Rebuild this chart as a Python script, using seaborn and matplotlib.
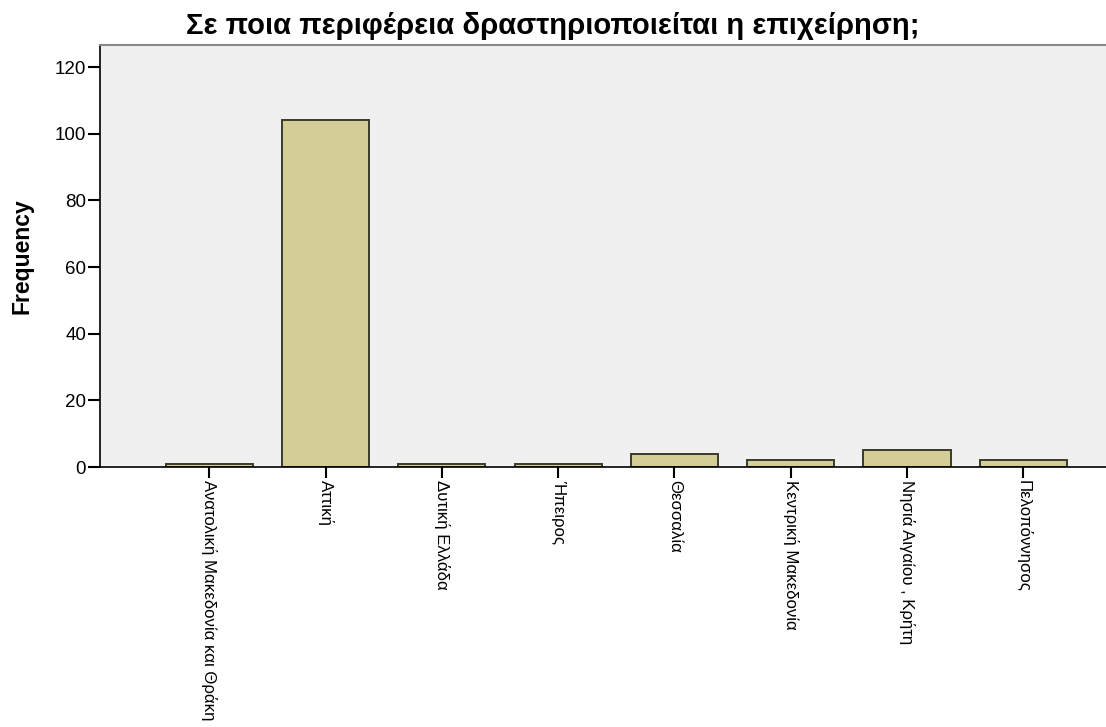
import matplotlib
matplotlib.use("Agg")
import matplotlib.pyplot as plt
import seaborn as sns
import pandas as pd

# Data
regions = [
    "Ανατολική Μακεδονία και Θράκη",
    "Αττική",
    "Δυτική Ελλάδα",
    "Ήπειρος",
    "Θεσσαλία",
    "Κεντρική Μακεδονία",
    "Νησιά Αιγαίου , Κρήτη",
    "Πελοπόννησος",
]
frequency = [1, 104, 1, 1, 4, 2, 5, 2]
y_ticks = [0, 20, 40, 60, 80, 100, 120]

title = "Σε ποια περιφέρεια δραστηριοποιείται η επιχείρηση;"

sns.set_style("white")
plt.rcParams["font.family"] = ["Liberation Sans", "DejaVu Sans"]
plt.rcParams["text.color"] = "black"
plt.rcParams["xtick.color"] = "black"
plt.rcParams["ytick.color"] = "black"
plt.rcParams["axes.labelcolor"] = "black"

df = pd.DataFrame({"region": regions, "frequency": frequency})

fig = plt.figure(figsize=(11.06, 7.27), dpi=100)
ax = fig.add_axes([0.0904, 0.3576, 0.92, 0.5805])
ax.set_facecolor("#f0f0f0")

sns.barplot(data=df, x="region", y="frequency", color="#d3ce97",
            saturation=1, width=0.75, edgecolor="#3c3a2c", linewidth=1.4, ax=ax)

ax.set_xlim(-0.94, 7.81)
ax.set_ylim(0, 126.6)
ax.set_yticks(y_ticks)
ax.set_yticklabels([str(t) for t in y_ticks], fontsize=13.5)
ax.set_xticks(range(len(regions)))
ax.set_xticklabels(regions, rotation=-90, ha="center", va="top", fontsize=12.1)

ax.tick_params(axis="y", direction="out", length=9, width=1.5, left=True, pad=1)
ax.tick_params(axis="x", direction="out", length=8, width=1.5, bottom=True, pad=1)

for side in ["left", "bottom"]:
    ax.spines[side].set_color("black")
    ax.spines[side].set_linewidth(1.2)
ax.spines["top"].set_color("#888888")
ax.spines["top"].set_linewidth(1.5)
ax.spines["right"].set_visible(False)

ax.set_xlabel("")
ax.set_ylabel("Frequency", fontsize=16.5, fontweight="bold", labelpad=15)
fig.text(0.5, 0.964, title, ha="center", va="center", fontsize=21.1, fontweight="bold")

fig.savefig("out.png", dpi=100)
